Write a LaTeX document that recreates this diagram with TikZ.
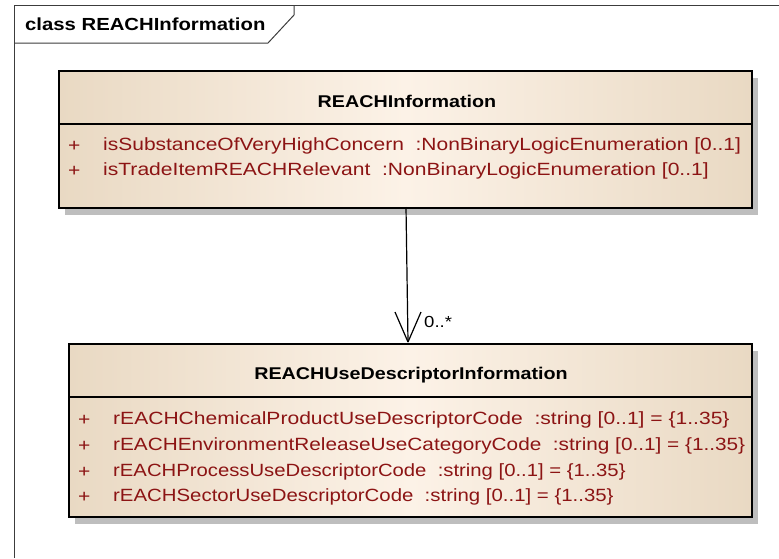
\documentclass[tikz,border=0pt]{standalone}
\usepackage{fontspec}
\setmainfont[FakeStretch=1.16]{Liberation Sans}
\newfontfamily\attrfont[FakeStretch=1.19]{Liberation Sans}
\usetikzlibrary{shadows}
\definecolor{boxedge}{RGB}{233,217,195}
\definecolor{boxmid}{RGB}{252,242,231}
\definecolor{attrred}{RGB}{140,20,20}
\definecolor{framegray}{RGB}{60,60,60}
\definecolor{shadowgray}{RGB}{190,190,190}
\tikzset{
  classbox/.style={draw=black, line width=1.6pt, inner sep=0pt, anchor=north west,
    left color=boxedge, right color=boxedge, middle color=boxmid,
    drop shadow={shadow xshift=6pt, shadow yshift=-7pt, fill=shadowgray, opacity=1}},
  sepline/.style={draw=black, line width=1.2pt},
  headtext/.style={font=\fontsize{17}{20}\selectfont\bfseries, inner sep=0pt},
  attr/.style={font=\attrfont\fontsize{17.7}{20}\selectfont, text=attrred, inner sep=0pt, anchor=west},
  framestyle/.style={draw=framegray, line width=1pt},
  assoc/.style={draw=black, line width=1.2pt},
}
\begin{document}
\begin{tikzpicture}[x=1pt,y=-1pt]
\useasboundingbox (0,0) rectangle (779,558);
% frame
\draw[framestyle] (14,558) -- (14,5) -- (779,5);
\draw[framestyle] (14,43) -- (268,43) -- (294,15) -- (294,5);
\node[font=\fontsize{17.5}{20}\selectfont\bfseries, anchor=west, inner sep=0pt] (title) at (25,24) {class REACHInformation};
% top class
\node[classbox, minimum width=693pt, minimum height=137pt] (top) at (58,70) {};
\draw[sepline] (top.west |- 0,124) -- (top.east |- 0,124);
\node[headtext] (topname) at (407,101) {REACHInformation};
\node[attr] (tp1) at (68,146) {+};
\node[attr] (ta1) at (103,146) {\scalebox{0.996}[1]{isSubstanceOfVeryHighConcern\ \ :NonBinaryLogicEnumeration [0..1]}};
\node[attr] (tp2) at (68,171) {+};
\node[attr] (ta2) at (103,171) {isTradeItemREACHRelevant\ \ :NonBinaryLogicEnumeration [0..1]};
% bottom class
\node[classbox, minimum width=683pt, minimum height=173pt] (bot) at (68,343) {};
\draw[sepline] (bot.west |- 0,397) -- (bot.east |- 0,397);
\node[headtext] (botname) at (411,375) {REACHUseDescriptorInformation};
\node[attr] (bp1) at (78,420) {+};
\node[attr] (ba1) at (113,420) {rEACHChemicalProductUseDescriptorCode\ \ :string [0..1] = \{1..35\}};
\node[attr] (bp2) at (78,446) {+};
\node[attr] (ba2) at (113,446) {\scalebox{0.986}[1]{rEACHEnvironmentReleaseUseCategoryCode\ \ :string [0..1] = \{1..35\}}};
\node[attr] (bp3) at (78,472) {+};
\node[attr] (ba3) at (113,472) {\scalebox{0.963}[1]{rEACHProcessUseDescriptorCode\ \ :string [0..1] = \{1..35\}}};
\node[attr] (bp4) at (78,497) {+};
\node[attr] (ba4) at (113,497) {\scalebox{0.968}[1]{rEACHSectorUseDescriptorCode\ \ :string [0..1] = \{1..35\}}};
% association
\coordinate (src) at (406,207);
\coordinate (tip) at (408,342);
\draw[assoc] (src) -- (tip);
\draw[assoc] (tip) -- (395,312);
\draw[assoc] (tip) -- (421,312);
\node[font=\fontsize{16}{18}\selectfont, anchor=west, inner sep=0pt] (mult) at (424,322) {0..*};
\end{tikzpicture}
\end{document}
